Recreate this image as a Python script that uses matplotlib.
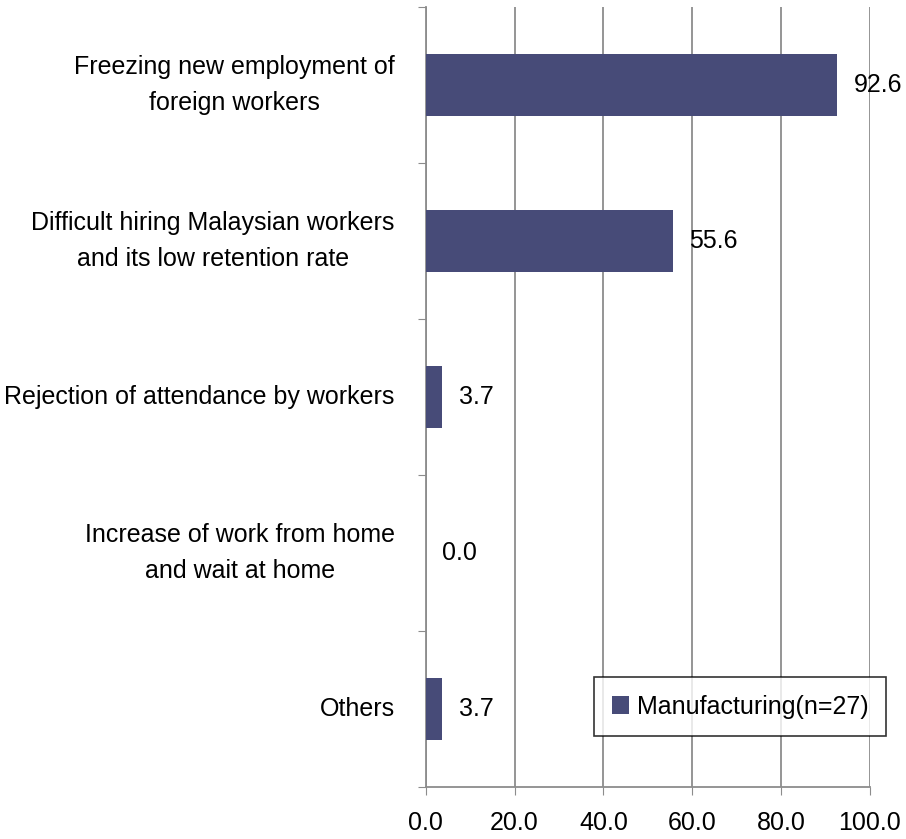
import matplotlib
matplotlib.use("Agg")
import matplotlib.pyplot as plt
import numpy as np

categories = [
    "Freezing new employment of\nforeign workers",
    "Difficult hiring Malaysian workers\nand its low retention rate",
    "Rejection of attendance by workers",
    "Increase of work from home\nand wait at home",
    "Others",
]
values = [92.6, 55.6, 3.7, 0.0, 3.7]
series_label = "Manufacturing(n=27)"
xticks = [0, 20, 40, 60, 80, 100]

plt.rcParams["font.family"] = ["Liberation Sans", "DejaVu Sans"]

BAR = "#474b78"
GRID = "#8c8c8c"

fig = plt.figure(figsize=(9.06, 8.39), dpi=100)
ax = fig.add_axes([0.470, 0.062, 0.490, 0.9297])

y = np.arange(len(categories))
ax.barh(y, values, height=0.4, color=BAR, label=series_label, zorder=3)
for yi, v in zip(y, values):
    ax.annotate(f"{v:.1f}", (v, yi), xytext=(12, 0), textcoords="offset points",
                va="center", ha="left", fontsize=18, zorder=4)

ax.set_ylim(len(categories) - 0.5, -0.5)
ax.set_xlim(0, 100)
ax.set_xticks(xticks)
ax.set_xticklabels([f"{t:.1f}" for t in xticks], fontsize=18)
ax.tick_params(axis="x", length=6, color=GRID, pad=11)

# category labels as text, ticks at category boundaries
ax.set_yticks(np.arange(len(categories) + 1) - 0.5)
ax.set_yticklabels([])
ax.tick_params(axis="y", length=6, color=GRID)
for yi, c in zip(y, categories):
    ax.text(-7, yi, c, ha="right", va="center", multialignment="center",
            linespacing=1.6, fontsize=18, clip_on=False)

ax.grid(axis="x", color=GRID, linewidth=1.3, zorder=0)
for s in ("top", "right"):
    ax.spines[s].set_visible(False)
for s in ("left", "bottom"):
    ax.spines[s].set_color(GRID)
    ax.spines[s].set_linewidth(1.3)

leg = ax.legend(loc="lower right", bbox_to_anchor=(1.036, 0.065), borderaxespad=0,
                fontsize=18, frameon=True, fancybox=False, handlelength=0.7,
                handleheight=0.7, handletextpad=0.3, borderpad=0.7)
leg.get_frame().set_edgecolor("black")
leg.get_frame().set_linewidth(1.2)

fig.savefig("out.png", dpi=100)
